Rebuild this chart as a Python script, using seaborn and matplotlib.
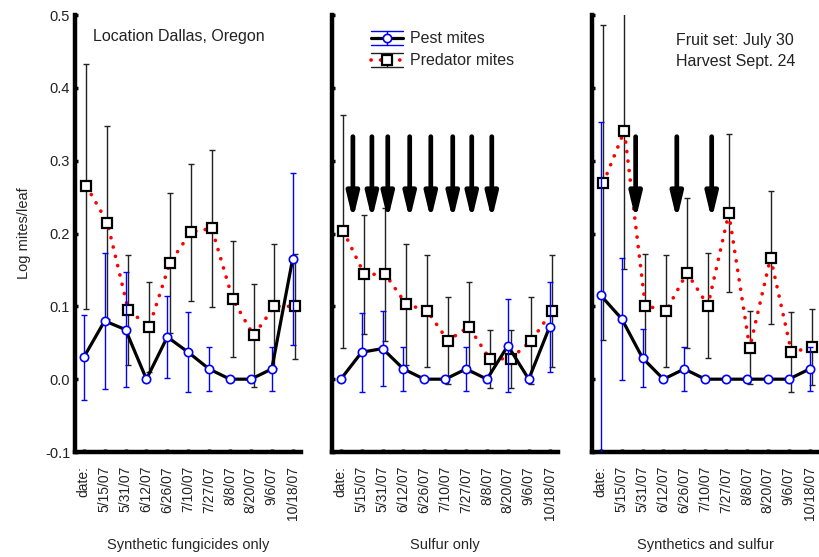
import numpy as np
import pandas as pd
import seaborn as sns
import matplotlib.pyplot as plt
from matplotlib.lines import Line2D
from matplotlib.legend_handler import HandlerBase

sns.set_theme(style="ticks")
plt.rcParams["font.family"] = ["Liberation Sans", "DejaVu Sans"]

## Data (log mites per leaf)
date_labels = ["date:", "5/15/07", "5/31/07", "6/12/07", "6/26/07", "7/10/07",
               "7/27/07", "8/8/07", "8/20/07", "9/6/07", "10/18/07"]
sample_idx = np.arange(len(date_labels))

treatments = ["Synthetic fungicides only", "Sulfur only", "Synthetics and sulfur"]

pest_fung = [0.030, 0.080, 0.068, 0.000, 0.058, 0.037, 0.014, 0.000, 0.000, 0.014, 0.165]
pest_fung_err = [0.058, 0.093, 0.079, 0.0, 0.056, 0.055, 0.030, 0.0, 0.0, 0.030, 0.118]
pred_fung = [0.265, 0.215, 0.095, 0.072, 0.160, 0.202, 0.207, 0.110, 0.060, 0.100, 0.100]
pred_fung_err = [0.168, 0.132, 0.076, 0.062, 0.096, 0.094, 0.108, 0.080, 0.071, 0.085, 0.072]

pest_sulf = [0.000, 0.037, 0.042, 0.014, 0.000, 0.000, 0.014, 0.000, 0.046, 0.000, 0.072]
pest_sulf_err = [0.0, 0.054, 0.051, 0.030, 0.0, 0.0, 0.030, 0.0, 0.064, 0.0, 0.062]
pred_sulf = [0.203, 0.144, 0.144, 0.103, 0.094, 0.053, 0.072, 0.028, 0.028, 0.053, 0.094]
pred_sulf_err = [0.160, 0.082, 0.091, 0.083, 0.077, 0.060, 0.062, 0.040, 0.040, 0.060, 0.077]

pest_both = [0.115, 0.083, 0.029, 0.000, 0.014, 0.000, 0.000, 0.000, 0.000, 0.000, 0.014]
pest_both_err = [0.238, 0.084, 0.040, 0.0, 0.030, 0.0, 0.0, 0.0, 0.0, 0.0, 0.030]
pred_both = [0.270, 0.341, 0.101, 0.094, 0.146, 0.101, 0.228, 0.043, 0.167, 0.037, 0.044]
pred_both_err = [0.216, 0.190, 0.071, 0.077, 0.103, 0.072, 0.108, 0.050, 0.091, 0.055, 0.052]

# sulfur spray dates, in sample-index units
spray_sulf = [0.58, 1.49, 2.25, 3.30, 4.31, 5.36, 6.27, 7.23]
spray_both = [1.67, 3.64, 5.31]

panels = [
    (pest_fung, pest_fung_err, pred_fung, pred_fung_err, []),
    (pest_sulf, pest_sulf_err, pred_sulf, pred_sulf_err, spray_sulf),
    (pest_both, pest_both_err, pred_both, pred_both_err, spray_both),
]

pred_offset = 0.13
arrow_top, arrow_tip = 0.333, 0.219

PEST_STYLE = dict(color="black", lw=2.3, marker="o", markersize=6, markerfacecolor="white",
                  markeredgecolor="blue", markeredgewidth=1.2)
PRED_STYLE = dict(color="red", lw=2.6, linestyle=(0, (0.05, 2.6)), dash_capstyle="round",
                  marker="s", markersize=7, markerfacecolor="white",
                  markeredgecolor="black", markeredgewidth=1.6)


class ErrEntry:
    def __init__(self, style, ecolor):
        self.style = style
        self.ecolor = ecolor


class HandlerErrEntry(HandlerBase):
    # matlab-ish legend key: caps above and below, line + marker in the middle
    def create_artists(self, legend, orig_handle, xdescent, ydescent, width, height,
                       fontsize, trans):
        x0, x1 = -xdescent, -xdescent + width
        yc = -ydescent + height / 2
        dy = height * 0.62
        xm = (x0 + x1) / 2
        arts = [
            Line2D([x0, x1], [yc + dy, yc + dy], color=orig_handle.ecolor, lw=1.0),
            Line2D([x0, x1], [yc - dy, yc - dy], color=orig_handle.ecolor, lw=1.0),
            Line2D([xm, xm], [yc - dy, yc + dy], color=orig_handle.ecolor, lw=1.0),
        ]
        st = dict(orig_handle.style)
        mk = {k: st.pop(k) for k in ["marker", "markersize", "markerfacecolor",
                                     "markeredgecolor", "markeredgewidth"]}
        arts.append(Line2D([x0, x1], [yc, yc], **st))
        arts.append(Line2D([xm], [yc], linestyle="none", **mk))
        for a in arts:
            a.set_transform(trans)
        return arts


fig = plt.figure(figsize=(8.2, 5.57), dpi=100)
lefts = [75, 332, 592]
axes = [fig.add_axes([l / 820, 0.1885, 226 / 820, 0.7845]) for l in lefts]

for i, (ax, (pest, pest_err, pred, pred_err, sprays)) in enumerate(zip(axes, panels)):
    df = pd.DataFrame({
        "x": sample_idx,
        "pest": pest,
        "pest_err": pest_err,
        "pred_x": sample_idx + pred_offset,
        "pred": pred,
        "pred_err": pred_err,
    })

    ax.errorbar(df["pred_x"], df["pred"], yerr=df["pred_err"], fmt="none",
                ecolor="#222222", elinewidth=1.0, capsize=2.5, capthick=1.0, zorder=2)
    sns.lineplot(data=df, x="pred_x", y="pred", ax=ax, errorbar=None, zorder=3, **PRED_STYLE)

    ax.errorbar(df["x"], df["pest"], yerr=df["pest_err"], fmt="none",
                ecolor="blue", elinewidth=1.0, capsize=2.5, capthick=1.0, zorder=4)
    sns.lineplot(data=df, x="x", y="pest", ax=ax, errorbar=None, zorder=5, **PEST_STYLE)

    for sx in sprays:
        ax.annotate("", xy=(sx, arrow_tip), xytext=(sx, arrow_top),
                    arrowprops=dict(arrowstyle="-|>,head_length=1.25,head_width=0.3",
                                    lw=3.4, color="black", shrinkA=0, shrinkB=0),
                    zorder=6)

    ax.set_xlim(-0.42, 10.4)
    ax.set_ylim(-0.1, 0.5)
    ax.set_xticks(sample_idx)
    ax.set_xticklabels(date_labels, rotation=90, fontsize=10)
    ax.set_yticks(np.arange(-0.1, 0.51, 0.1))
    if i == 0:
        ax.set_yticklabels(["-0.1", "0.0", "0.1", "0.2", "0.3", "0.4", "0.5"], fontsize=10.5)
        ax.set_ylabel("Log mites/leaf", fontsize=10.5, labelpad=10)
    else:
        ax.set_yticklabels([])
        ax.set_ylabel("")
    ax.set_xlabel(treatments[i], fontsize=10.5, labelpad=13)
    ax.tick_params(axis="both", direction="in", length=2.5, width=2.5, color="black",
                   labelcolor="#222222")
    ax.tick_params(axis="x", pad=10)
    sns.despine(ax=ax)
    for side in ["left", "bottom"]:
        ax.spines[side].set_linewidth(3.2)
        ax.spines[side].set_color("black")
    ax.patch.set_alpha(0)

axes[0].text(0.08, 0.95, "Location Dallas, Oregon", transform=axes[0].transAxes,
             fontsize=11.5, va="center", ha="left", color="#222222")
axes[2].text(0.37, 0.96, "Fruit set: July 30\nHarvest Sept. 24", transform=axes[2].transAxes,
             fontsize=11.5, va="top", ha="left", linespacing=1.5, color="#222222")

axes[1].legend([ErrEntry(PEST_STYLE, "blue"), ErrEntry(PRED_STYLE, "#222222")],
               ["Pest mites", "Predator mites"],
               handler_map={ErrEntry: HandlerErrEntry()},
               loc="upper left", bbox_to_anchor=(0.13, 0.985), frameon=False,
               fontsize=11.5, handlelength=2.0, handleheight=0.7, handletextpad=0.45,
               labelspacing=0.45, borderaxespad=0.2)

fig.savefig("out.png", dpi=100)
